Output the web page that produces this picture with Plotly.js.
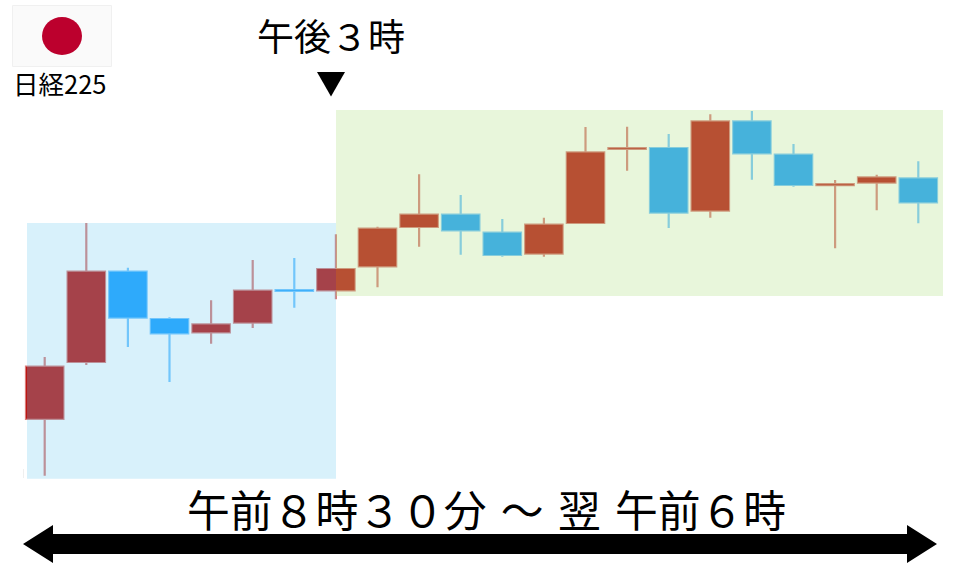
<!DOCTYPE html>
<html><head><meta charset="utf-8">
<script src="https://cdn.plot.ly/plotly-3.0.1.min.js"></script>
<style>html,body{margin:0;padding:0;background:#fff}#c{width:960px;height:567px}</style>
</head><body><div id="c"></div>
<script>
// Value scale: 567 minus the height
const sessions = [0,1,2,3,4,5,6,7,8,9,10,11,12,13,14,15,16,17,18,19,20,21];
const highRead  = [357,223,267.7,317.3,300.3,260,258,234.3,226.7,174.3,195,219,217.7,127,126.7,134,114.3,111,144,180,174.7,161.3];
const lowRead   = [475.7,365,347,382,343.7,328,307.7,299.3,287.3,246.7,254.7,256.7,256.7,223.7,170.7,228,217.7,179.7,186.7,248.3,210.3,223.3];
const openRead  = [418.8,362,271.7,319,332.3,322.6,290.2,290.3,266.3,227,214.7,232.7,253.6,223,149,148,210.6,121.4,154.7,185.2,182.6,178.4];
const closeRead = [366.7,271.7,317.6,333.3,324.4,290.7,290.9,269,228.7,214.7,230.3,255,224.7,152.4,148.2,212.6,121.4,153.3,185,184.2,177.4,202.3];
const toValue = a => a.map(v => 567 - v);

const px = v => v / 960, py = v => 1 - v / 567;
const pathOf = pts => 'M' + pts.map(p => px(p[0]) + ',' + py(p[1])).join('L') + 'Z';
const box = (x0, y0, x1, y1, fill, line) => ({type:'rect', xref:'paper', yref:'paper', layer:'above',
  x0:px(x0), x1:px(x1), y0:py(y1), y1:py(y0), fillcolor:fill, line:line || {width:0}});

const trace = {
  type:'candlestick', x:sessions,
  open:toValue(openRead), high:toValue(highRead), low:toValue(lowRead), close:toValue(closeRead),
  increasing:{line:{color:'rgba(187,22,19,0.55)', width:2.2}, fillcolor:'rgb(187,22,19)'},
  decreasing:{line:{color:'rgba(28,160,255,0.6)', width:2.2}, fillcolor:'rgb(28,160,255)'},
  whiskerwidth:0, hoverinfo:'skip', showlegend:false
};
const jp = '"Noto Sans CJK JP", sans-serif';
const note = (text, x, y, size) => ({text, x:px(x), y:py(y), xref:'paper', yref:'paper', showarrow:false,
  xanchor:'center', yanchor:'middle', font:{family:jp, size, color:'#000'}});

const layout = {
  width:960, height:567, margin:{l:0,r:0,t:0,b:0}, paper_bgcolor:'#fff', plot_bgcolor:'#fff',
  showlegend:false, boxgap:0.1, boxgroupgap:0, dragmode:false,
  xaxis:{range:[-44.7/41.6,(960-44.7)/41.6], visible:false, fixedrange:true, rangeslider:{visible:false}},
  yaxis:{range:[0,567], visible:false, fixedrange:true},
  shapes:[
    box(27,223,336,478.7,'rgba(99,199,239,0.25)'),
    box(336,110,943,296,'rgba(176,225,132,0.29)'),
    box(23,469,23.7,478,'#e8e8e8'),
    box(12.5,5.5,111.5,66.5,'#fafafa',{color:'#f0f0f0',width:1}),
    {type:'circle', xref:'paper', yref:'paper', layer:'above', x0:px(42), x1:px(82), y0:py(55), y1:py(17), fillcolor:'#bc002d', line:{width:0}},
    {type:'path', xref:'paper', yref:'paper', layer:'above', fillcolor:'#000', line:{width:0},
      path:pathOf([[317,72],[345,72],[331,96.5]])},
    {type:'path', xref:'paper', yref:'paper', layer:'above', fillcolor:'#000', line:{width:0},
      path:pathOf([[23,544],[53,525],[53,534],[907,534],[907,525],[937,544],[907,563],[907,554],[53,554],[53,563]])}
  ],
  annotations:[
    note('日経225', 59.5, 82.5, 25.5),
    note('午後３時', 331, 35, 37),
    note('午前８時３０分\u2004～\u2004翌\u2004午前６時', 486.5, 507.5, 42.8)
  ]
};
Plotly.newPlot('c',[trace],layout,{displayModeBar:false,staticPlot:true});
</script></body></html>
